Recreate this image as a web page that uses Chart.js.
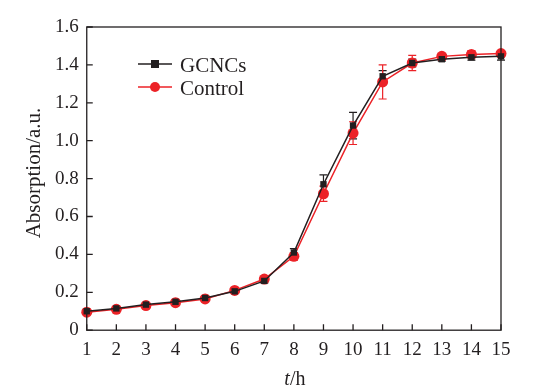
<!DOCTYPE html>
<html>
<head>
<meta charset="utf-8">
<script src="https://cdn.jsdelivr.net/npm/chart.js@4"></script>
<style>
  html, body { margin: 0; padding: 0; background: #fff; }
  #wrap { width: 539px; height: 391px; }
</style>
</head>
<body>
<div id="wrap"><canvas id="growthChart" width="539" height="391"></canvas></div>
<script>
// Growth curve data (time in hours, absorption in a.u.)
const hours = [1, 2, 3, 4, 5, 6, 7, 8, 9, 10, 11, 12, 13, 14, 15];
const gcncsValues = [0.10, 0.115, 0.135, 0.15, 0.17, 0.205, 0.26, 0.41, 0.77, 1.08, 1.34, 1.41, 1.43, 1.44, 1.445];
const gcncsErrors = [0.01, 0.01, 0.01, 0.01, 0.01, 0.01, 0.01, 0.02, 0.05, 0.07, 0.03, 0.02, 0.01, 0.015, 0.02];
const controlValues = [0.095, 0.11, 0.13, 0.145, 0.165, 0.21, 0.27, 0.39, 0.72, 1.04, 1.31, 1.41, 1.445, 1.455, 1.46];
const controlErrors = [0.01, 0.01, 0.01, 0.01, 0.01, 0.01, 0.01, 0.02, 0.04, 0.06, 0.09, 0.04, 0.015, 0.02, 0.015];
const yTicks = [0, 0.2, 0.4, 0.6, 0.8, 1.0, 1.2, 1.4, 1.6];

const BLACK = '#231f20';
const RED = '#ec2227';
const FONT = '"Liberation Serif", "Times New Roman", serif';

function toPoints(vals) {
    return hours.map((h, i) => ({ x: h, y: vals[i] }));
}

// error bars drawn through the scales
const errorBars = {
    id: 'errorBars',
    beforeDatasetsDraw(chart) {
        const ctx = chart.ctx;
        const xs = chart.scales.x, ys = chart.scales.y;
        chart.data.datasets.forEach(ds => {
            ctx.save();
            ctx.strokeStyle = ds.borderColor;
            ctx.lineWidth = 1.2;
            ds.data.forEach((p, i) => {
                const e = ds.errors[i];
                const px = xs.getPixelForValue(p.x);
                const top = ys.getPixelForValue(p.y + e);
                const bot = ys.getPixelForValue(p.y - e);
                ctx.beginPath();
                ctx.moveTo(px, top); ctx.lineTo(px, bot);
                ctx.moveTo(px - 4, top); ctx.lineTo(px + 4, top);
                ctx.moveTo(px - 4, bot); ctx.lineTo(px + 4, bot);
                ctx.stroke();
            });
            ctx.restore();
        });
    }
};

// frame, inward ticks, legend, axis titles
const frame = {
    id: 'frame',
    afterDraw(chart) {
        const ctx = chart.ctx;
        const a = chart.chartArea;
        const xs = chart.scales.x, ys = chart.scales.y;
        ctx.save();
        ctx.strokeStyle = BLACK;
        ctx.lineWidth = 1.3;
        ctx.strokeRect(a.left, a.top, a.right - a.left, a.bottom - a.top);
        ctx.beginPath();
        hours.forEach(h => {
            const px = xs.getPixelForValue(h);
            ctx.moveTo(px, a.bottom); ctx.lineTo(px, a.bottom - 6);
        });
        yTicks.forEach(v => {
            const py = ys.getPixelForValue(v);
            ctx.moveTo(a.left, py); ctx.lineTo(a.left + 6, py);
        });
        ctx.stroke();

        // legend
        ctx.font = '21px ' + FONT;
        ctx.textBaseline = 'middle';
        const lx = 138, items = [
            { label: 'GCNCs', color: BLACK, y: 64, shape: 'rect' },
            { label: 'Control', color: RED, y: 87, shape: 'circle' }
        ];
        items.forEach(it => {
            ctx.strokeStyle = it.color;
            ctx.fillStyle = it.color;
            ctx.lineWidth = 1.5;
            ctx.beginPath();
            ctx.moveTo(lx, it.y); ctx.lineTo(lx + 34, it.y);
            ctx.stroke();
            if (it.shape === 'rect') {
                ctx.fillRect(lx + 13, it.y - 4, 8, 8);
            } else {
                ctx.beginPath();
                ctx.arc(lx + 17, it.y, 5, 0, Math.PI * 2);
                ctx.fill();
            }
            ctx.fillStyle = BLACK;
            ctx.fillText(it.label, lx + 42, it.y + 2);
        });

        // y title
        ctx.save();
        ctx.translate(34, 173);
        ctx.rotate(-Math.PI / 2);
        ctx.textAlign = 'center';
        ctx.textBaseline = 'middle';
        ctx.font = '21px ' + FONT;
        ctx.fillText('Absorption/a.u.', 0, 0);
        ctx.restore();

        // x title with italic t
        ctx.textBaseline = 'alphabetic';
        ctx.font = 'italic 20px ' + FONT;
        const tW = ctx.measureText('t').width;
        ctx.font = '20px ' + FONT;
        const hW = ctx.measureText('/h').width;
        const cx = (a.left + a.right) / 2 + 1;
        const sx = cx - (tW + hW) / 2;
        ctx.font = 'italic 20px ' + FONT;
        ctx.textAlign = 'left';
        ctx.fillText('t', sx, 385);
        ctx.font = '20px ' + FONT;
        ctx.fillText('/h', sx + tW, 385);
        ctx.restore();
    }
};

new Chart(document.getElementById('growthChart').getContext('2d'), {
    type: 'line',
    data: {
        datasets: [
            {
                label: 'GCNCs',
                data: toPoints(gcncsValues),
                errors: gcncsErrors,
                borderColor: BLACK,
                backgroundColor: BLACK,
                borderWidth: 1.5,
                pointStyle: 'rect',
                pointRadius: 4.5,
                pointBorderWidth: 0,
                tension: 0,
                clip: false
            },
            {
                label: 'Control',
                data: toPoints(controlValues),
                errors: controlErrors,
                borderColor: RED,
                backgroundColor: RED,
                borderWidth: 1.5,
                pointStyle: 'circle',
                pointRadius: 5.5,
                pointBorderWidth: 0,
                tension: 0,
                clip: false
            }
        ]
    },
    options: {
        responsive: false,
        animation: false,
        layout: { padding: { left: 47, right: 38, top: 27, bottom: 22 } },
        plugins: {
            legend: { display: false },
            tooltip: { enabled: false }
        },
        scales: {
            x: {
                type: 'linear',
                min: 1, max: 15,
                grid: { display: false, drawTicks: false },
                border: { display: false },
                afterBuildTicks: s => { s.ticks = hours.map(v => ({ value: v })); },
                ticks: {
                    color: BLACK,
                    font: { family: FONT, size: 19 },
                    padding: 8,
                    maxRotation: 0,
                    autoSkip: false
                }
            },
            y: {
                min: 0, max: 1.6,
                grid: { display: false, drawTicks: false },
                border: { display: false },
                afterBuildTicks: s => { s.ticks = yTicks.map(v => ({ value: v })); },
                ticks: {
                    color: BLACK,
                    font: { family: FONT, size: 19 },
                    padding: 8,
                    callback: v => v === 0 ? '0' : v.toFixed(1)
                }
            }
        }
    },
    plugins: [errorBars, frame]
});
</script>
</body>
</html>
